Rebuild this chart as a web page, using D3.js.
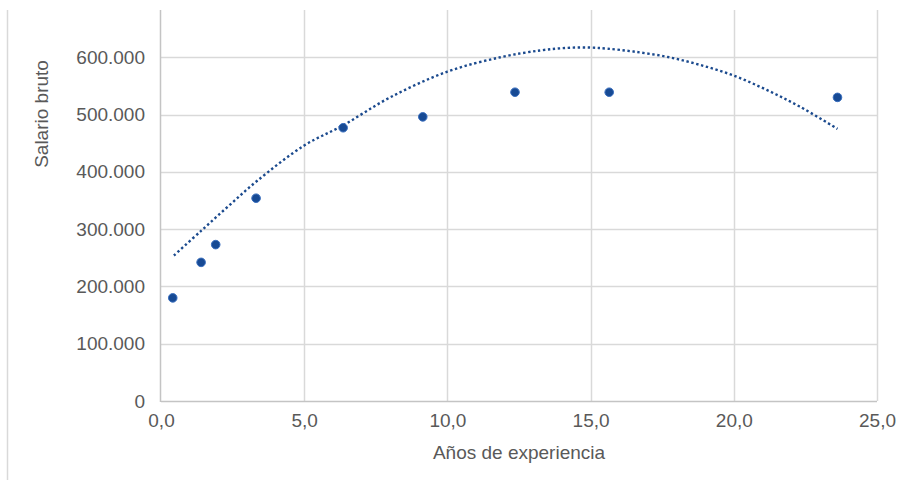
<!DOCTYPE html>
<html>
<head>
<meta charset="utf-8">
<script src="https://cdn.jsdelivr.net/npm/d3@7"></script>
<style>
  html, body { margin: 0; padding: 0; background: #ffffff; }
  svg { display: block; font-family: "Liberation Sans", Arial, sans-serif; }
</style>
</head>
<body>
<svg id="chart" width="913" height="480"></svg>
<script>
// Observed salaries by years of experience
const experience = [0.41, 1.40, 1.91, 3.32, 6.36, 9.14, 12.36, 15.65, 23.62];
const salary = [180000, 242000, 273000, 354000, 477000, 496000, 539000, 539000, 530000];

// Polynomial trend curve, sampled along the experience range
const trendX = [0.45, 1.4, 2.35, 3.35, 5.0, 6.35, 8.0, 10.0, 11.85, 13.25, 14.2, 15.0, 15.6, 16.5, 17.65, 18.8, 20.0, 21.15, 22.3, 23.62];
const trendY = [254000, 297000, 340000, 384000, 446000, 481000, 530000, 575000, 600000, 612000, 616500, 617000, 615000, 610000, 601000, 587000, 568000, 543000, 514000, 475000];

// Axis ticks
const xTicks = [0, 5, 10, 15, 20, 25];
const yTicks = [0, 100000, 200000, 300000, 400000, 500000, 600000];

const xTitle = "Años de experiencia";
const yTitle = "Salario bruto";

const locale = d3.formatLocale({ decimal: ",", thousands: ".", grouping: [3], currency: ["", " €"] });
const fmtY = locale.format(",.0f");
const fmtX = locale.format(".1f");

const svg = d3.select("#chart");
const plotLeft = 161, plotRight = 877, plotTop = 10, plotBottom = 401;

const x = d3.scaleLinear().domain([0, 25]).range([plotLeft, plotRight]);
const y = d3.scaleLinear().domain([0, 700000]).range([plotBottom, 0]);

const textColor = "#595959";
const gridColor = "#d9d9d9";

// outer frame edge
svg.append("line")
  .attr("x1", 7.5).attr("x2", 7.5).attr("y1", plotTop).attr("y2", 480)
  .attr("stroke", gridColor).attr("stroke-width", 1.5);

// horizontal gridlines
svg.append("g")
  .selectAll("line")
  .data(yTicks.filter(d => d > 0))
  .join("line")
  .attr("x1", plotLeft).attr("x2", plotRight)
  .attr("y1", d => Math.round(y(d)) + 0.5).attr("y2", d => Math.round(y(d)) + 0.5)
  .attr("stroke", gridColor).attr("stroke-width", 1.5);

// vertical gridlines
svg.append("g")
  .selectAll("line")
  .data(xTicks.filter(d => d > 0))
  .join("line")
  .attr("x1", d => Math.round(x(d)) + 0.5).attr("x2", d => Math.round(x(d)) + 0.5)
  .attr("y1", plotTop).attr("y2", plotBottom)
  .attr("stroke", gridColor).attr("stroke-width", 1.5);

// axes (lines drawn separately, tick labels via d3.axis)
const xAxis = svg.append("g")
  .attr("transform", `translate(0,${plotBottom})`)
  .call(d3.axisBottom(x).tickValues(xTicks).tickFormat(fmtX).tickSize(0).tickPadding(13));
const yAxis = svg.append("g")
  .attr("transform", `translate(${plotLeft},0)`)
  .call(d3.axisLeft(y).tickValues(yTicks).tickFormat(fmtY).tickSize(0).tickPadding(16));

[xAxis, yAxis].forEach(g => {
  g.select(".domain").remove();
  g.selectAll("text")
    .attr("fill", textColor)
    .style("font-size", "19px")
    .style("font-family", "'Liberation Sans', Arial, sans-serif");
});

svg.append("line")
  .attr("x1", plotLeft - 0.5).attr("x2", plotLeft - 0.5).attr("y1", plotTop).attr("y2", plotBottom + 1)
  .attr("stroke", "#c4c4c4").attr("stroke-width", 1.5);
svg.append("line")
  .attr("x1", plotLeft).attr("x2", plotRight).attr("y1", plotBottom + 0.5).attr("y2", plotBottom + 0.5)
  .attr("stroke", "#c4c4c4").attr("stroke-width", 1.5);

// axis titles
svg.append("text")
  .attr("x", (plotLeft + plotRight) / 2).attr("y", 459)
  .attr("text-anchor", "middle")
  .attr("fill", textColor).style("font-size", "19px")
  .text(xTitle);
svg.append("text")
  .attr("transform", "translate(48,114) rotate(-90)")
  .attr("text-anchor", "middle")
  .attr("fill", textColor).style("font-size", "19px")
  .text(yTitle);

// trend curve
const trend = trendX.map((d, i) => [d, trendY[i]]);
svg.append("path")
  .datum(trend)
  .attr("d", d3.line().x(d => x(d[0])).y(d => y(d[1])).curve(d3.curveCatmullRom.alpha(0.5)))
  .attr("fill", "none")
  .attr("stroke", "#1b4a8e")
  .attr("stroke-width", 2.4)
  .attr("stroke-dasharray", "2.4 2.6");

// data points
const points = experience.map((d, i) => [d, salary[i]]);
svg.append("g")
  .selectAll("circle")
  .data(points)
  .join("circle")
  .attr("cx", d => x(d[0]))
  .attr("cy", d => y(d[1]))
  .attr("r", 4.3)
  .attr("fill", "#174a94")
  .attr("stroke", "#3a6fbf")
  .attr("stroke-width", 1);
</script>
</body>
</html>
